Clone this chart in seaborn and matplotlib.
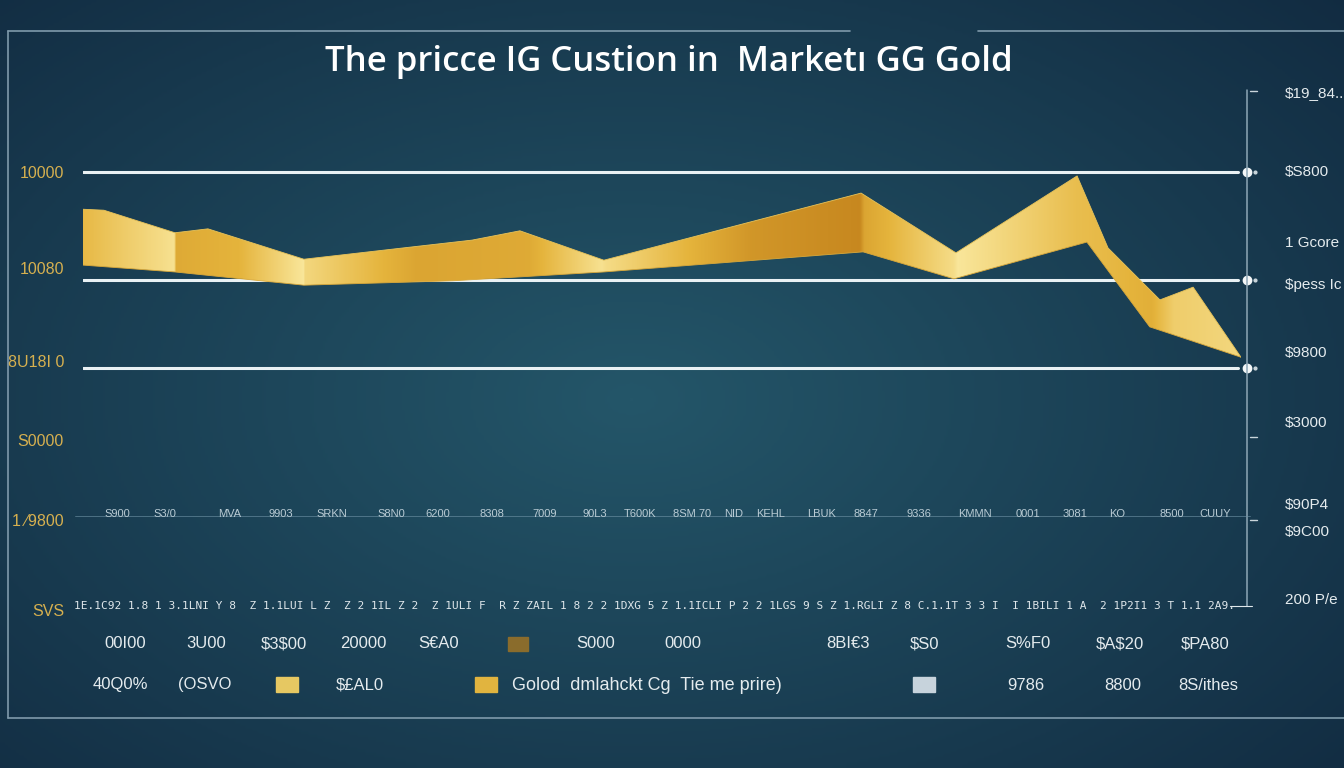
"""plot.py
Gold market price ribbon chart on a dark navy background.
"""

# Imports
import matplotlib
matplotlib.use("Agg")
import matplotlib.pyplot as plt
import seaborn as sns
import numpy as np
from matplotlib.colors import LinearSegmentedColormap
from matplotlib.patches import Polygon, Rectangle
from matplotlib.lines import Line2D


# Data (x in weeks, y in USD)
upper_week = [0, 0.94, 4.13, 5.61, 9.92, 17.47, 19.62, 23.39, 34.94, 39.2,
              44.64, 46.03, 48.36, 49.85, 52]
upper_price = [1924, 1922, 1876, 1884, 1822, 1861, 1880, 1820, 1957, 1835,
               1992, 1845, 1739, 1765, 1622]
lower_week = [0, 4.13, 9.92, 16.61, 23.39, 35.03, 39.11, 45.08, 47.9, 52]
lower_price = [1810, 1796, 1769, 1778, 1796, 1837, 1782, 1857, 1684, 1622]
grid_prices = [2000, 1780, 1600]

title = "The pricce IG Custion in  Marketı GG Gold"
left_labels = ["10000", "10080", "8U18I 0", "S0000", "1 \u20449800", "SVS"]
right_labels = ["$19_84..", "$S800", "1 Gcore", "$pess Ic", "$9800",
                "$3000", "$90P4", "$9C00", "200 P/e"]
mid_labels = ["S900", "S3/0", "MVA", "9903", "SRKN", "S8N0", "6200", "8308",
              "7009", "90L3", "T600K", "8SM 70", "NID", "KEHL", "LBUK",
              "8847", "9336", "KMMN", "0001", "3081", "KO", "8500", "CUUY"]
tick_row = ("1E.1C92 1.8 1 3.1LNI Y 8  Z 1.1LUI L Z  Z 2 1IL Z 2  Z 1ULI F  "
            "R Z ZAIL 1 8 2 2 1DXG 5 Z 1.1ICLI P 2 2 1LGS 9 S Z 1.RGLI Z 8 "
            "C.1.1T 3 3 I  I 1BILI 1 A  2 1P2I1 3 T 1.1 2A9.")
legend_row1 = ["00I00", "3U00", "$3$00", "20000", "S\u20acA0", None, "S000",
               "0000", "8BI\u20ac3", "$S0", "S%F0", "$A$20", "$PA80"]
legend_row2 = ["40Q0%", "(OSVO", None, "$\u00a3AL0", None,
               "Golod  dmlahckt Cg  Tie me prire)", None, "9786", "8800",
               "8S/ithes"]

# Layout (pixels of the 1344x768 canvas)
W, H = 1344, 768
BG_CENTER, BG_EDGE = "#245669", "#112a40"
GOLD_TXT = "#d6b04f"
PALE_TXT = "#e4ebee"


def fx(px):
    return px / W


def fy(py):
    return 1 - py / H


# Theme
sns.set_theme(style="dark")
plt.rcParams["font.family"] = ["Liberation Sans", "DejaVu Sans"]

fig = plt.figure(figsize=(W / 100, H / 100), dpi=100)

# Background radial gradient
bg = fig.add_axes([0, 0, 1, 1])
yy, xx = np.mgrid[0:1:300j, 0:1:500j]
dist = np.sqrt(((xx - 0.47) / 0.75) ** 2 + ((yy - 0.52) / 0.8) ** 2)
bg_cmap = LinearSegmentedColormap.from_list("bg", [BG_CENTER, BG_EDGE])
bg.imshow(np.clip(dist, 0, 1), cmap=bg_cmap, aspect="auto",
          extent=[0, 1, 0, 1], vmin=0, vmax=1)
bg.set_xlim(0, 1)
bg.set_ylim(0, 1)
bg.axis("off")

# Frame lines
frame_kw = dict(color="#7f9aab", lw=1.2, transform=fig.transFigure)
for xs, ys in [([fx(8), fx(850)], [fy(31)] * 2),
               ([fx(978), fx(1344)], [fy(31)] * 2),
               ([fx(8)] * 2, [fy(31), fy(718)]),
               ([fx(8), fx(1344)], [fy(718)] * 2)]:
    fig.add_artist(Line2D(xs, ys, **frame_kw))

# Main axes: px 83..1241 horizontally, price 2000 at y=172, 1600 at y=368
scale = (368 - 172) / (2000 - 1600)
ylo, yhi = 1560, 2060
top_px = 172 - (yhi - 2000) * scale
bot_px = 368 + (1600 - ylo) * scale
ax = fig.add_axes([fx(83), fy(bot_px), fx(1241) - fx(83),
                   fy(top_px) - fy(bot_px)])
ax.set_xlim(0, 52)
ax.set_ylim(ylo, yhi)
ax.axis("off")
ax.patch.set_alpha(0)

# Grid lines with dots at the right axis
for gp in grid_prices:
    ax.plot([0, 51.85], [gp, gp], color="#e9f1f4", lw=2.2, zorder=2,
            solid_capstyle="round")
    ax.plot([52.27], [gp], "o", color="#f4f7f8", ms=6, clip_on=False,
            zorder=3)
    ax.plot([52.65], [gp], "o", color="#c9d5db", ms=2, clip_on=False,
            zorder=3)

# Gold ribbon: gradient image clipped to the polygon between the edges
poly_x = np.concatenate([upper_week, lower_week[::-1]])
poly_y = np.concatenate([upper_price, lower_price[::-1]])
ribbon = Polygon(np.column_stack([poly_x, poly_y]), closed=True,
                 facecolor="none", edgecolor="none")
ax.add_patch(ribbon)

shade_x = [0, 2, 4.1, 4.15, 7, 9.9, 9.95, 15, 20, 23.3, 23.45, 30, 34.9,
           35.1, 39.1, 39.3, 44.6, 46, 48, 49, 52]
shade_v = [0.55, 0.75, 0.95, 0.4, 0.5, 1.0, 0.85, 0.35, 0.4, 0.95, 0.9,
           0.2, 0.05, 0.35, 0.9, 1.0, 0.6, 0.55, 0.45, 0.75, 0.85]
gx = np.linspace(0, 52, 1200)
shade = np.interp(gx, shade_x, shade_v)
gold_cmap = LinearSegmentedColormap.from_list(
    "gold", ["#c4831c", "#e5b43c", "#f9e69a"])
img = ax.imshow(np.tile(shade, (40, 1)), cmap=gold_cmap, aspect="auto",
                extent=[0, 52, ylo, yhi], vmin=0, vmax=1, zorder=4,
                interpolation="bilinear")
img.set_clip_path(ribbon)

sns.lineplot(x=upper_week, y=upper_price, ax=ax, color="#e8c359", lw=0.6,
             zorder=5)
sns.lineplot(x=lower_week, y=lower_price, ax=ax, color="#d9a83a", lw=0.6,
             zorder=5)

# Right axis line
fig.add_artist(Line2D([fx(1247)] * 2, [fy(90), fy(606)], color="#8ea7b6",
                      lw=1.1, transform=fig.transFigure))
for py in [91, 437, 520]:
    fig.add_artist(Line2D([fx(1250), fx(1257)], [fy(py)] * 2,
                          color="#c9d5db", lw=1.0,
                          transform=fig.transFigure))

# Title
fig.text(fx(669), fy(62), title, ha="center", va="center", color="white",
         fontsize=25, fontweight="semibold",
         family=["Open Sans", "DejaVu Sans"])

# Left labels
for lab, py in zip(left_labels, [174, 270, 362, 441, 522, 612]):
    fig.text(fx(64), fy(py), lab, ha="right", va="center", color=GOLD_TXT,
             fontsize=11.5)

# Right labels
for lab, py in zip(right_labels, [93, 172, 243, 285, 353, 423, 505, 532,
                                  600]):
    fig.text(fx(1285), fy(py), lab, ha="left", va="center", color=PALE_TXT,
             fontsize=11, parse_math=False)

# Faint middle row of labels
fig.add_artist(Line2D([fx(75), fx(1250)], [fy(516)] * 2, color="#6f93a6",
                      lw=0.6, alpha=0.7, transform=fig.transFigure))
mid_x = [117, 165, 230, 281, 332, 391, 438, 492, 545, 595, 640, 692, 734,
         771, 822, 866, 919, 975, 1028, 1075, 1117, 1172, 1215]
for lab, px in zip(mid_labels, mid_x):
    fig.text(fx(px), fy(514), lab, ha="center", va="center",
             color="#b9cbd4", fontsize=8)

# Dense tick row
fig.text(fx(654), fy(606), tick_row, ha="center", va="center",
         color="#dfe7eb", fontsize=8, family=["DejaVu Sans Mono"])
fig.add_artist(Line2D([fx(1230), fx(1252)], [fy(606)] * 2, color="#dfe7eb",
                      lw=0.8, transform=fig.transFigure))

# Legend-like rows
row1_x = [125, 206, 284, 363, 439, 518, 596, 683, 848, 925, 1028, 1120, 1205]
for lab, px in zip(legend_row1, row1_x):
    if lab is None:
        fig.add_artist(Rectangle((fx(px - 10), fy(651)), fx(20), 14 / H,
                                 color="#8a6c2c", transform=fig.transFigure))
    else:
        fig.text(fx(px), fy(644), lab, ha="center", va="center",
                 color=PALE_TXT, fontsize=12, parse_math=False)

row2_x = [120, 205, 287, 360, 486, 512, 924, 1026, 1123, 1208]
swatch_col = {2: "#e6c862", 4: "#e1b43f", 6: "#c7d3dc"}
for i, (lab, px) in enumerate(zip(legend_row2, row2_x)):
    if lab is None:
        fig.add_artist(Rectangle((fx(px - 11), fy(692)), fx(22), 15 / H,
                                 color=swatch_col[i],
                                 transform=fig.transFigure))
    elif i == 5:
        fig.text(fx(px), fy(685), lab, ha="left", va="center",
                 color=PALE_TXT, fontsize=13, parse_math=False)
    else:
        fig.text(fx(px), fy(685), lab, ha="center", va="center",
                 color=PALE_TXT, fontsize=12, parse_math=False)

fig.savefig("out.png", dpi=100)
